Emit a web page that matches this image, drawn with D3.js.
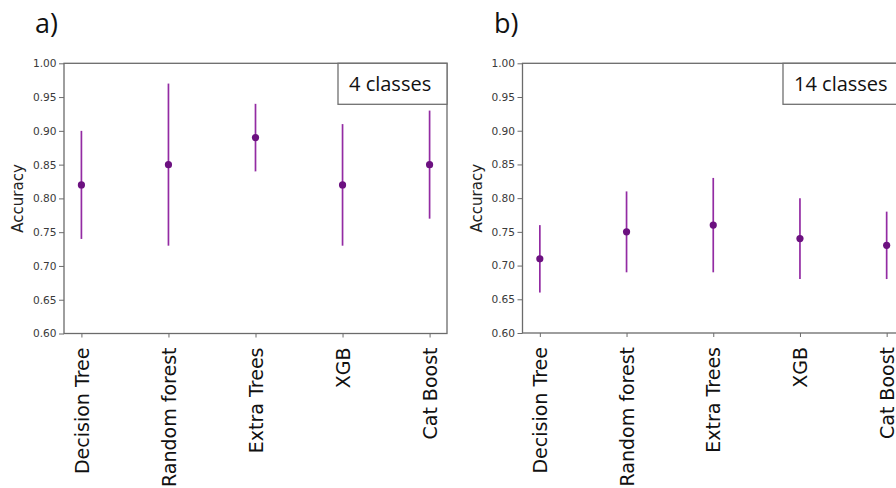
<!DOCTYPE html>
<html>
<head>
<meta charset="utf-8">
<script src="https://cdn.jsdelivr.net/npm/d3@7"></script>
<style>
  html, body { margin: 0; padding: 0; background: #fff; }
  svg { display: block; }
</style>
</head>
<body>
<svg id="chart" width="896" height="488"></svg>
<script>
// Model names shared by both panels
const models = ["Decision Tree", "Random forest", "Extra Trees", "XGB", "Cat Boost"];

// Panel a) — 4 classes
const meanA = [0.82, 0.85, 0.89, 0.82, 0.85];
const lowA  = [0.74, 0.73, 0.84, 0.73, 0.77];
const highA = [0.90, 0.97, 0.94, 0.91, 0.93];

// Panel b) — 14 classes
const meanB = [0.71, 0.75, 0.76, 0.74, 0.73];
const lowB  = [0.66, 0.69, 0.69, 0.68, 0.68];
const highB = [0.76, 0.81, 0.83, 0.80, 0.78];

const yTicks = [0.60, 0.65, 0.70, 0.75, 0.80, 0.85, 0.90, 0.95, 1.00];
const panelLabels = ["a)", "b)"];
const classLabels = ["4 classes", "14 classes"];

const svg = d3.select("#chart");
const axisColor = "#6b6b6b";
const lineColor = "#932ba3";
const dotColor = "#6c1180";

function drawPanel(opt) {
  const { left, right, top, bottom, mean, low, high, tag, boxText, boxLeft, tagX } = opt;
  const g = svg.append("g");

  const x = d3.scaleLinear().domain([-0.2, models.length - 1 + 0.2]).range([left, right]);
  const y = d3.scaleLinear().domain([0.6, 1.0]).range([bottom, top]);

  // y axis
  const yAxis = g.append("g")
    .attr("transform", `translate(${left},0)`)
    .call(d3.axisLeft(y).tickValues(yTicks).tickFormat(d3.format(".2f")).tickSize(5).tickPadding(2.5));
  yAxis.select(".domain").remove();
  yAxis.selectAll(".tick line").attr("stroke", axisColor);
  yAxis.selectAll(".tick text")
    .attr("fill", "#3a3a3a")
    .style("font-family", "DejaVu Sans")
    .style("font-size", "10.6px");

  // x axis
  const xAxis = g.append("g")
    .attr("transform", `translate(0,${bottom})`)
    .call(d3.axisBottom(x).tickValues(d3.range(models.length)).tickFormat(i => models[i]).tickSize(4).tickPadding(14));
  xAxis.select(".domain").remove();
  xAxis.selectAll(".tick line").attr("stroke", axisColor);
  xAxis.selectAll(".tick text")
    .attr("fill", "#111")
    .attr("transform", "rotate(-90)")
    .attr("text-anchor", "end")
    .attr("x", -14)
    .attr("y", 0)
    .attr("dy", "0.35em")
    .style("font-family", "DejaVu Sans")
    .style("font-size", "19px");

  // plot frame
  g.append("rect")
    .attr("x", left).attr("y", top)
    .attr("width", right - left).attr("height", bottom - top)
    .attr("fill", "none").attr("stroke", axisColor).attr("stroke-width", 1.3);

  // y label
  g.append("text")
    .attr("transform", `translate(${left - 46},${(top + bottom) / 2}) rotate(-90)`)
    .attr("text-anchor", "middle")
    .attr("dy", "0.35em")
    .attr("fill", "#222")
    .style("font-family", "DejaVu Sans")
    .style("font-size", "15px")
    .text("Accuracy");

  // error bars
  g.selectAll("line.err")
    .data(d3.range(models.length))
    .join("line")
    .attr("class", "err")
    .attr("x1", i => x(i)).attr("x2", i => x(i))
    .attr("y1", i => y(low[i])).attr("y2", i => y(high[i]))
    .attr("stroke", lineColor).attr("stroke-width", 1.7);

  // means
  g.selectAll("circle.mean")
    .data(d3.range(models.length))
    .join("circle")
    .attr("class", "mean")
    .attr("cx", i => x(i)).attr("cy", i => y(mean[i]))
    .attr("r", 3.6)
    .attr("fill", dotColor);

  // class-count box
  const boxTop = top;
  const boxH = 41;
  g.append("rect")
    .attr("x", boxLeft).attr("y", boxTop)
    .attr("width", right - boxLeft).attr("height", boxH)
    .attr("fill", "#fff").attr("stroke", "#707070").attr("stroke-width", 1.3);
  g.append("text")
    .attr("x", boxLeft + 11).attr("y", boxTop + boxH / 2)
    .attr("dy", "0.36em")
    .attr("fill", "#111")
    .style("font-family", "Open Sans")
    .style("font-size", "20px")
    .text(boxText);

  // panel tag
  g.append("text")
    .attr("x", tagX).attr("y", 33)
    .attr("fill", "#111")
    .style("font-family", "Open Sans")
    .style("font-size", "27px")
    .text(tag);
}

drawPanel({
  left: 64, right: 447, top: 63.3, bottom: 333.5,
  mean: meanA, low: lowA, high: highA,
  tag: panelLabels[0], boxText: classLabels[0], boxLeft: 338, tagX: 35
});

drawPanel({
  left: 522.5, right: 904, top: 63.3, bottom: 333,
  mean: meanB, low: lowB, high: highB,
  tag: panelLabels[1], boxText: classLabels[1], boxLeft: 783, tagX: 494
});
</script>
</body>
</html>
